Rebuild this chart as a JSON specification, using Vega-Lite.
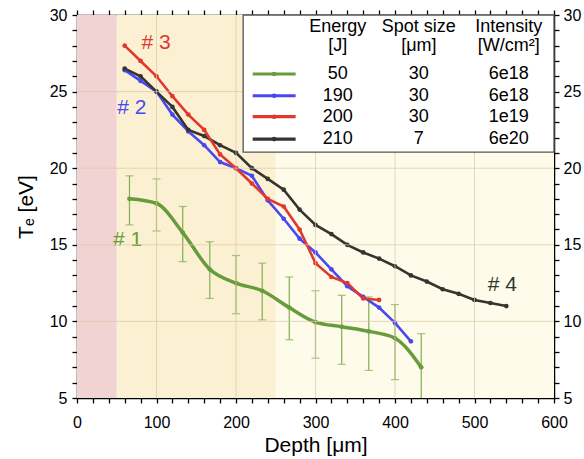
{
  "$schema": "https://vega.github.io/schema/vega-lite/v6.json",
  "autosize": "none",
  "width": 477,
  "height": 383,
  "padding": {"left": 77, "top": 15, "right": 30, "bottom": 61},
  "background": "white",
  "config": {
    "view": {"stroke": null},
    "font": "Liberation Sans",
    "axis": {
      "domainColor": "black", "domainWidth": 1.5, "ticks": true, "tickSize": 5, "tickColor": "black", "tickWidth": 1.3,
      "labelFont": "Liberation Sans", "labelFontSize": 16, "labelColor": "black",
      "titleFont": "Liberation Sans", "titleFontSize": 21, "titleFontWeight": "normal", "titleColor": "black",
      "grid": false, "zindex": 1
    }
  },
  "datasets": {
    "zones": [
      {"x0": 0, "x1": 50, "zone": "a"},
      {"x0": 50, "x1": 250, "zone": "b"},
      {"x0": 250, "x1": 600, "zone": "c"}
    ],
    "vgrid": [{"gx": 100}, {"gx": 200}, {"gx": 300}, {"gx": 400}, {"gx": 500}],
    "hgrid": [{"gy": 10}, {"gy": 15}, {"gy": 20}, {"gy": 25}],
    "series": [
      {"s": "1", "d": 66, "t": 18.0}, {"s": "1", "d": 100, "t": 17.7}, {"s": "1", "d": 133, "t": 15.8},
      {"s": "1", "d": 167, "t": 13.4}, {"s": "1", "d": 200, "t": 12.5}, {"s": "1", "d": 233, "t": 12.0},
      {"s": "1", "d": 267, "t": 10.9}, {"s": "1", "d": 300, "t": 9.95}, {"s": "1", "d": 333, "t": 9.65},
      {"s": "1", "d": 367, "t": 9.35}, {"s": "1", "d": 400, "t": 8.9}, {"s": "1", "d": 433, "t": 7.0},
      {"s": "2", "d": 60, "t": 26.4}, {"s": "2", "d": 80, "t": 25.7}, {"s": "2", "d": 100, "t": 25.0},
      {"s": "2", "d": 120, "t": 23.5}, {"s": "2", "d": 140, "t": 22.4}, {"s": "2", "d": 160, "t": 21.5},
      {"s": "2", "d": 180, "t": 20.4}, {"s": "2", "d": 200, "t": 20.0}, {"s": "2", "d": 220, "t": 19.5},
      {"s": "2", "d": 240, "t": 17.9}, {"s": "2", "d": 260, "t": 16.7}, {"s": "2", "d": 280, "t": 15.4},
      {"s": "2", "d": 300, "t": 14.5}, {"s": "2", "d": 320, "t": 13.4}, {"s": "2", "d": 340, "t": 12.3},
      {"s": "2", "d": 360, "t": 11.6}, {"s": "2", "d": 380, "t": 10.9}, {"s": "2", "d": 400, "t": 9.9},
      {"s": "2", "d": 420, "t": 8.7},
      {"s": "4", "d": 60, "t": 26.5}, {"s": "4", "d": 80, "t": 26.0}, {"s": "4", "d": 100, "t": 25.0},
      {"s": "4", "d": 120, "t": 24.0}, {"s": "4", "d": 140, "t": 22.5}, {"s": "4", "d": 160, "t": 22.1},
      {"s": "4", "d": 180, "t": 21.5}, {"s": "4", "d": 200, "t": 21.0}, {"s": "4", "d": 220, "t": 20.0},
      {"s": "4", "d": 240, "t": 19.3}, {"s": "4", "d": 260, "t": 18.6}, {"s": "4", "d": 280, "t": 17.3},
      {"s": "4", "d": 300, "t": 16.3}, {"s": "4", "d": 320, "t": 15.7}, {"s": "4", "d": 340, "t": 15.0},
      {"s": "4", "d": 360, "t": 14.5}, {"s": "4", "d": 380, "t": 14.1}, {"s": "4", "d": 400, "t": 13.6},
      {"s": "4", "d": 420, "t": 13.0}, {"s": "4", "d": 440, "t": 12.6}, {"s": "4", "d": 460, "t": 12.1},
      {"s": "4", "d": 480, "t": 11.8}, {"s": "4", "d": 500, "t": 11.4}, {"s": "4", "d": 520, "t": 11.2},
      {"s": "4", "d": 540, "t": 11.0},
      {"s": "3", "d": 60, "t": 28.0}, {"s": "3", "d": 80, "t": 27.0}, {"s": "3", "d": 100, "t": 26.0},
      {"s": "3", "d": 120, "t": 24.7}, {"s": "3", "d": 140, "t": 23.5}, {"s": "3", "d": 160, "t": 22.5},
      {"s": "3", "d": 180, "t": 20.9}, {"s": "3", "d": 200, "t": 20.0}, {"s": "3", "d": 220, "t": 19.0},
      {"s": "3", "d": 240, "t": 18.0}, {"s": "3", "d": 260, "t": 17.5}, {"s": "3", "d": 280, "t": 16.0},
      {"s": "3", "d": 300, "t": 13.8}, {"s": "3", "d": 320, "t": 12.9}, {"s": "3", "d": 340, "t": 12.5},
      {"s": "3", "d": 360, "t": 11.5}, {"s": "3", "d": 380, "t": 11.4}
    ],
    "err": [
      {"d": 66, "lo": 16.3, "hi": 19.5}, {"d": 100, "lo": 15.9, "hi": 19.3}, {"d": 133, "lo": 13.9, "hi": 17.5},
      {"d": 167, "lo": 11.5, "hi": 15.2}, {"d": 200, "lo": 10.5, "hi": 14.3}, {"d": 233, "lo": 10.1, "hi": 13.8},
      {"d": 267, "lo": 8.8, "hi": 12.9}, {"d": 300, "lo": 7.6, "hi": 12.0}, {"d": 333, "lo": 7.2, "hi": 11.7},
      {"d": 367, "lo": 6.8, "hi": 11.6}, {"d": 400, "lo": 6.2, "hi": 11.1}, {"d": 433, "lo": 5.0, "hi": 9.2}
    ],
    "tags": [
      {"s": "1", "label": "# 1", "d": 63.5, "t": 15.3},
      {"s": "2", "label": "# 2", "d": 69, "t": 23.9},
      {"s": "3", "label": "# 3", "d": 99.4, "t": 28.2},
      {"s": "4", "label": "# 4", "d": 535, "t": 12.4}
    ],
    "legbox": [{"x0": 209, "x1": 600, "y0": 21.05, "y1": 30}],
    "legrows": [
      {"s": "1", "energy": "50", "spot": "30", "inten": "6e18", "ly": 26.15},
      {"s": "2", "energy": "190", "spot": "30", "inten": "6e18", "ly": 24.73},
      {"s": "3", "energy": "200", "spot": "30", "inten": "1e19", "ly": 23.36},
      {"s": "4", "energy": "210", "spot": "7", "inten": "6e20", "ly": 21.9}
    ],
    "leghead": [
      {"txt": "Energy", "lx": 328, "ly": 29.2},
      {"txt": "Spot size", "lx": 430, "ly": 29.2},
      {"txt": "Intensity", "lx": 543, "ly": 29.2},
      {"txt": "[J]", "lx": 328, "ly": 27.95},
      {"txt": "[μm]", "lx": 430, "ly": 27.95},
      {"txt": "[W/cm²]", "lx": 543, "ly": 27.95}
    ]
  },
  "resolve": {"axis": {"x": "independent", "y": "independent"}},
  "layer": [
    {
      "data": {"name": "zones"},
      "mark": {"type": "rect"},
      "encoding": {
        "x": {"field": "x0", "type": "quantitative", "scale": {"domain": [0, 600], "nice": false},
          "axis": {"orient": "bottom", "title": "Depth [μm]", "values": [0,20,40,60,80,100,120,140,160,180,200,220,240,260,280,300,320,340,360,380,400,420,440,460,480,500,520,540,560,580,600],
            "labelExpr": "datum.value % 100 === 0 ? datum.label : ''", "labelPadding": 11, "titlePadding": 4, "labelFlush": false}},
        "x2": {"field": "x1"},
        "y": {"datum": 5, "type": "quantitative", "scale": {"domain": [5, 30], "nice": false},
          "axis": {"orient": "left", "title": "Tₑ [eV]", "values": [5,6,7,8,9,10,11,12,13,14,15,16,17,18,19,20,21,22,23,24,25,26,27,28,29,30],
            "labelExpr": "datum.value % 5 === 0 ? datum.label : ''", "labelPadding": 5, "titlePadding": 13, "labelFlush": false}},
        "y2": {"datum": 30},
        "fill": {"field": "zone", "type": "nominal", "scale": {"domain": ["a", "b", "c"], "range": ["#f2d3d3", "#fcf0d3", "#fefbea"]}, "legend": null}
      }
    },
    {
      "data": {"name": "err"},
      "mark": {"type": "rule", "color": "#7fae55", "strokeWidth": 1.2},
      "encoding": {
        "x": {"field": "d", "type": "quantitative", "axis": {"orient": "top", "title": null, "labels": false,
          "values": [0,20,40,60,80,100,120,140,160,180,200,220,240,260,280,300,320,340,360,380,400,420,440,460,480,500,520,540,560,580,600]}},
        "y": {"field": "lo", "type": "quantitative", "axis": {"orient": "right", "title": null,
          "values": [5,6,7,8,9,10,11,12,13,14,15,16,17,18,19,20,21,22,23,24,25,26,27,28,29,30],
          "labelExpr": "datum.value % 5 === 0 ? datum.label : ''", "labelPadding": 4, "labelFlush": false}},
        "y2": {"field": "hi"}
      }
    },
    {
      "data": {"name": "err"},
      "mark": {"type": "tick", "orient": "horizontal", "color": "#7fae55", "size": 8, "thickness": 1.2},
      "encoding": {
        "x": {"field": "d", "type": "quantitative", "axis": null},
        "y": {"field": "hi", "type": "quantitative", "axis": null}
      }
    },
    {
      "data": {"name": "err"},
      "transform": [{"filter": "datum.lo > 5.01"}],
      "mark": {"type": "tick", "orient": "horizontal", "color": "#7fae55", "size": 8, "thickness": 1.2},
      "encoding": {
        "x": {"field": "d", "type": "quantitative", "axis": null},
        "y": {"field": "lo", "type": "quantitative", "axis": null}
      }
    },
    {
      "data": {"name": "series"},
      "transform": [{"filter": "datum.s === '1'"}],
      "mark": {"type": "line", "interpolate": "monotone", "strokeWidth": 3.5},
      "encoding": {
        "x": {"field": "d", "type": "quantitative", "axis": null},
        "y": {"field": "t", "type": "quantitative", "axis": null},
        "color": {"field": "s", "type": "nominal", "scale": {"domain": ["1", "2", "3", "4"], "range": ["#679c3b", "#4848f0", "#e2372f", "#35342e"]}, "legend": null}
      }
    },
    {
      "data": {"name": "series"},
      "transform": [{"filter": "datum.s !== '1'"}],
      "mark": {"type": "line", "strokeWidth": 2.6},
      "encoding": {
        "x": {"field": "d", "type": "quantitative", "axis": null},
        "y": {"field": "t", "type": "quantitative", "axis": null},
        "color": {"field": "s", "type": "nominal", "legend": null},
        "order": {"field": "d"}
      }
    },
    {
      "data": {"name": "series"},
      "mark": {"type": "point", "filled": true, "size": 22, "opacity": 1},
      "encoding": {
        "x": {"field": "d", "type": "quantitative", "axis": null},
        "y": {"field": "t", "type": "quantitative", "axis": null},
        "color": {"field": "s", "type": "nominal", "legend": null}
      }
    },
    {
      "data": {"name": "tags"},
      "mark": {"type": "text", "fontSize": 21, "align": "center", "baseline": "middle"},
      "encoding": {
        "x": {"field": "d", "type": "quantitative", "axis": null},
        "y": {"field": "t", "type": "quantitative", "axis": null},
        "text": {"field": "label"},
        "color": {"field": "s", "type": "nominal", "legend": null}
      }
    },
    {
      "data": {"name": "vgrid"},
      "mark": {"type": "rule", "color": "#d8c9a2", "strokeWidth": 1, "opacity": 0.7},
      "encoding": {
        "x": {"field": "gx", "type": "quantitative", "axis": null},
        "y": {"datum": 5, "type": "quantitative", "axis": null},
        "y2": {"datum": 30}
      }
    },
    {
      "data": {"name": "hgrid"},
      "mark": {"type": "rule", "color": "#d8c9a2", "strokeWidth": 1, "opacity": 0.7},
      "encoding": {
        "y": {"field": "gy", "type": "quantitative", "axis": null},
        "x": {"datum": 0, "type": "quantitative", "axis": null},
        "x2": {"datum": 600}
      }
    },
    {
      "data": {"name": "legbox"},
      "mark": {"type": "rect", "fill": "white", "stroke": "#555555", "strokeWidth": 1.3},
      "encoding": {
        "x": {"field": "x0", "type": "quantitative", "axis": null},
        "x2": {"field": "x1"},
        "y": {"field": "y0", "type": "quantitative", "axis": null},
        "y2": {"field": "y1"}
      }
    },
    {
      "data": {"name": "legrows"},
      "mark": {"type": "rule", "strokeWidth": 3.2},
      "encoding": {
        "x": {"datum": 221, "type": "quantitative", "axis": null},
        "x2": {"datum": 275},
        "y": {"field": "ly", "type": "quantitative", "axis": null},
        "color": {"field": "s", "type": "nominal", "legend": null}
      }
    },
    {
      "data": {"name": "legrows"},
      "mark": {"type": "point", "filled": true, "size": 22, "opacity": 1},
      "encoding": {
        "x": {"datum": 248, "type": "quantitative", "axis": null},
        "y": {"field": "ly", "type": "quantitative", "axis": null},
        "color": {"field": "s", "type": "nominal", "legend": null}
      }
    },
    {
      "data": {"name": "legrows"},
      "mark": {"type": "text", "fontSize": 18, "align": "center", "baseline": "middle", "color": "black"},
      "encoding": {
        "x": {"datum": 328, "type": "quantitative", "axis": null},
        "y": {"field": "ly", "type": "quantitative", "axis": null},
        "text": {"field": "energy"}
      }
    },
    {
      "data": {"name": "legrows"},
      "mark": {"type": "text", "fontSize": 18, "align": "center", "baseline": "middle", "color": "black"},
      "encoding": {
        "x": {"datum": 430, "type": "quantitative", "axis": null},
        "y": {"field": "ly", "type": "quantitative", "axis": null},
        "text": {"field": "spot"}
      }
    },
    {
      "data": {"name": "legrows"},
      "mark": {"type": "text", "fontSize": 18, "align": "center", "baseline": "middle", "color": "black"},
      "encoding": {
        "x": {"datum": 543, "type": "quantitative", "axis": null},
        "y": {"field": "ly", "type": "quantitative", "axis": null},
        "text": {"field": "inten"}
      }
    },
    {
      "data": {"name": "leghead"},
      "mark": {"type": "text", "fontSize": 18, "align": "center", "baseline": "middle", "color": "black"},
      "encoding": {
        "x": {"field": "lx", "type": "quantitative", "axis": null},
        "y": {"field": "ly", "type": "quantitative", "axis": null},
        "text": {"field": "txt"}
      }
    }
  ]
}
